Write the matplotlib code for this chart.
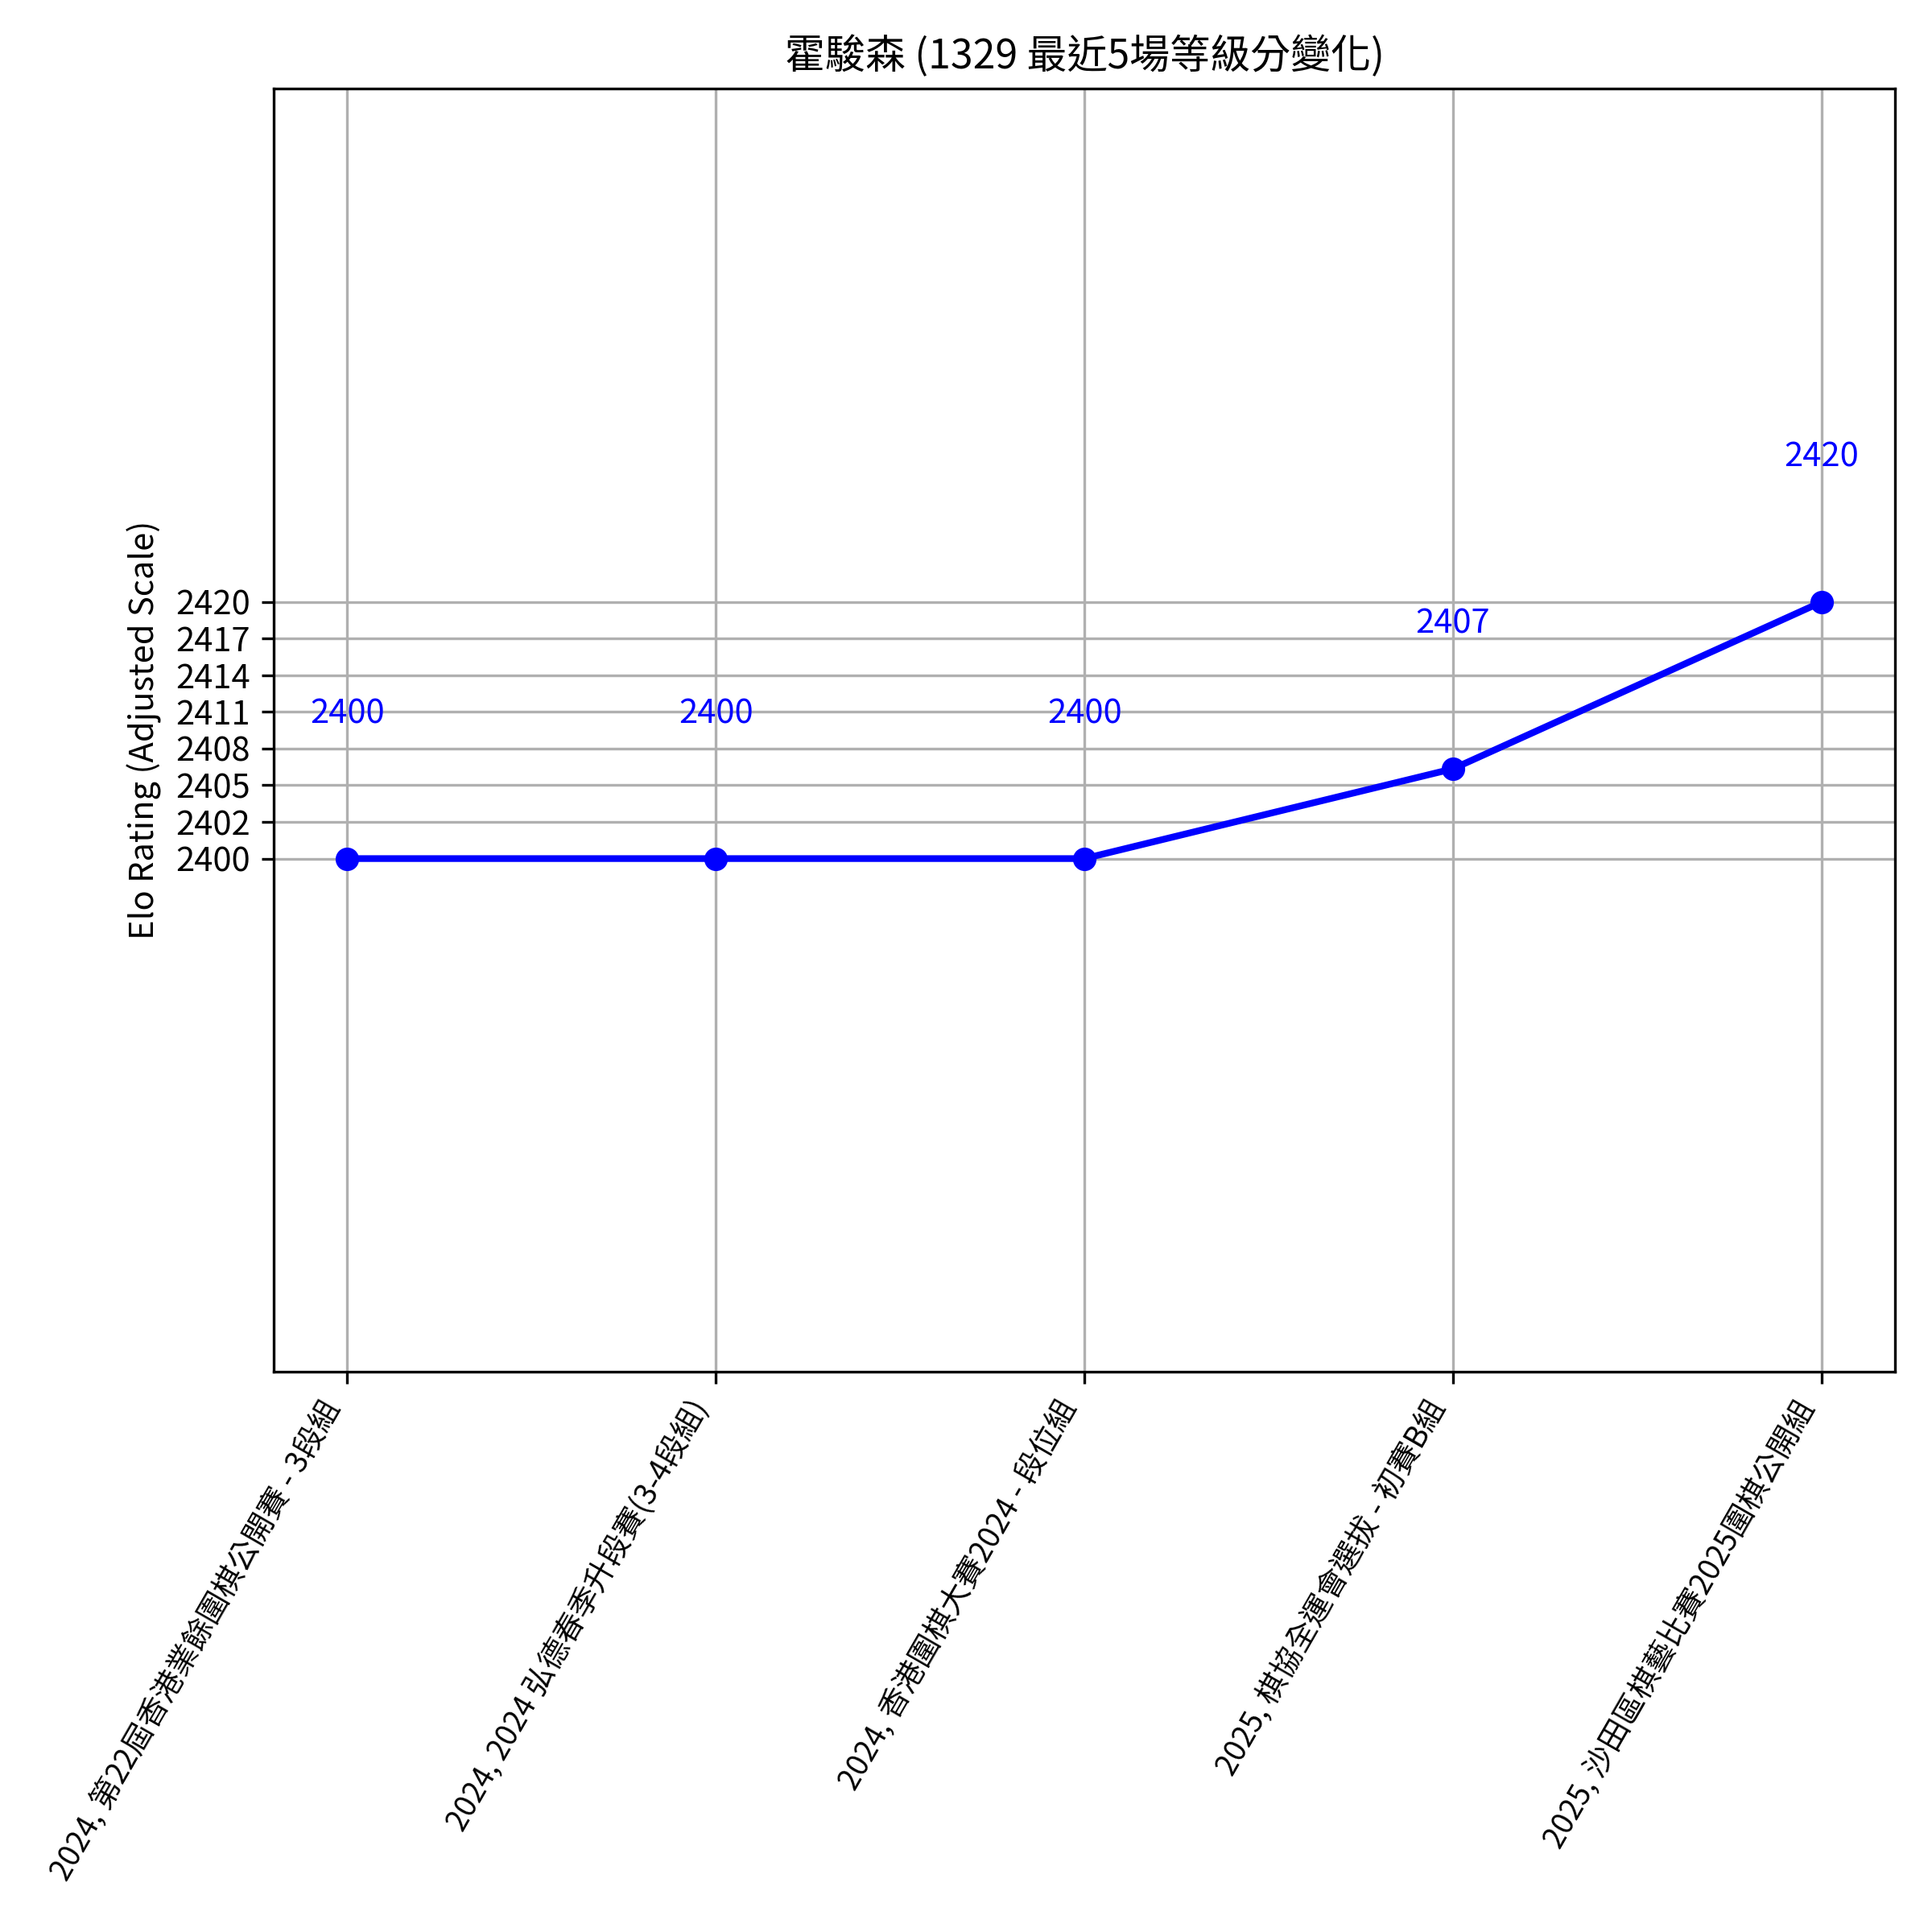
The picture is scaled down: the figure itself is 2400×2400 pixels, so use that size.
import numpy as np
import matplotlib
matplotlib.use("Agg")
import matplotlib.pyplot as plt

plt.rcParams['font.family'] = ['Noto Sans CJK TC', 'DejaVu Sans']

# 比賽名稱和等級分
events = [
    "2024, 第22屆香港業餘圍棋公開賽 - 3段組",
    "2024, 2024 弘德春季升段賽(3-4段組)",
    "2024, 香港圍棋大賽2024 - 段位組",
    "2025, 棋協全運會選拔 - 初賽B組",
    "2025, 沙田區棋藝比賽2025圍棋公開組",
]
ratings = [2400, 2400, 2400, 2407, 2420]

fig, ax = plt.subplots(figsize=(8, 8), dpi=300)
x = np.arange(len(events))
ax.plot(x, ratings, color='blue', marker='o', linewidth=2, markersize=6)

for xi, r in zip(x, ratings):
    ax.text(xi, r + 10, str(r), color='blue', ha='center', va='bottom', fontsize=10)

ax.set_ylim(min(ratings) - 40, max(ratings) + 40)
yt = np.linspace(min(ratings), max(ratings), 8)
ax.set_yticks(yt)
ax.set_yticklabels([str(int(v)) for v in yt])

ax.set_xticks(x)
# Noto 比原圖字體寬，稍微縮小避免被裁切
ax.set_xticklabels(events, rotation=60, ha='right', fontsize=9)
ax.set_ylabel("Elo Rating (Adjusted Scale)")
ax.set_title("霍駿森 (1329 最近5場等級分變化)")
ax.grid(True)

fig.subplots_adjust(left=0.1416, right=0.981, top=0.954, bottom=0.290)
fig.savefig("out.png")
